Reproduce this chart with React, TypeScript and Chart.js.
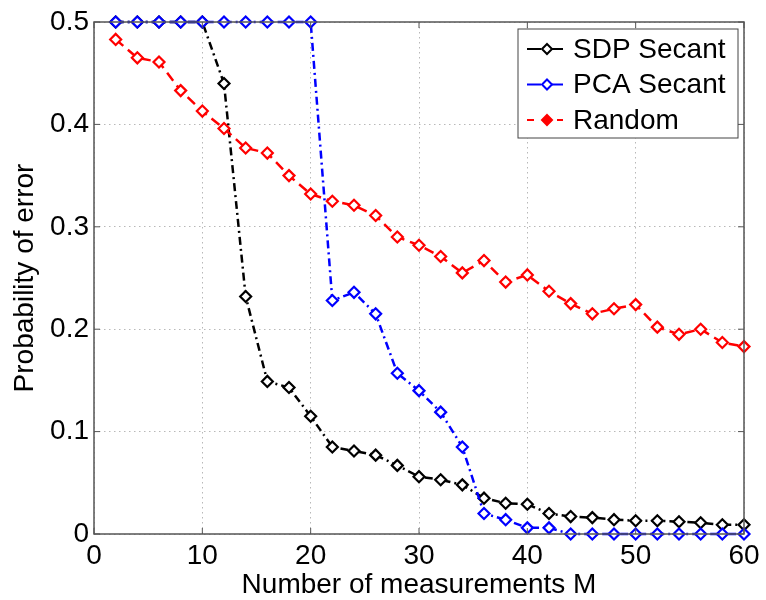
import React, { useEffect, useRef } from "react";
import { Chart, registerables } from "chart.js";

Chart.register(...registerables);

const mValues = [2, 4, 6, 8, 10, 12, 14, 16, 18, 20, 22, 24, 26, 28, 30, 32, 34, 36, 38, 40, 42, 44, 46, 48, 50, 52, 54, 56, 58, 60];
const sdpSecant = [0.5, 0.5, 0.5, 0.5, 0.5, 0.44, 0.232, 0.149, 0.143, 0.115, 0.085, 0.081, 0.077, 0.067, 0.056, 0.053, 0.048, 0.035, 0.03, 0.029, 0.02, 0.017, 0.016, 0.014, 0.013, 0.013, 0.012, 0.011, 0.009, 0.009];
const pcaSecant = [0.5, 0.5, 0.5, 0.5, 0.5, 0.5, 0.5, 0.5, 0.5, 0.5, 0.228, 0.236, 0.215, 0.157, 0.14, 0.119, 0.085, 0.02, 0.014, 0.006, 0.006, 0, 0, 0, 0, 0, 0, 0, 0, 0];
const randomProj = [0.483, 0.465, 0.461, 0.433, 0.413, 0.396, 0.377, 0.372, 0.35, 0.332, 0.325, 0.321, 0.311, 0.29, 0.282, 0.271, 0.255, 0.267, 0.246, 0.253, 0.237, 0.225, 0.215, 0.22, 0.224, 0.202, 0.195, 0.2, 0.187, 0.183];
const seriesNames = ["SDP Secant", "PCA Secant", "Random"];
const xTicks = [0, 10, 20, 30, 40, 50, 60];
const yTicks = [0, 0.1, 0.2, 0.3, 0.4, 0.5];
const xTitle = "Number of measurements M";
const yTitle = "Probability of error";

const FONT = "'Liberation Sans', Arial, Helvetica, sans-serif";
const DASH_DOT = [8, 4, 2, 4];
const DASHED = [10, 6];

const seriesStyles = [
  { color: "#000000", dash: DASH_DOT },
  { color: "#0000ff", dash: DASH_DOT },
  { color: "#ff0000", dash: DASHED },
];

const framePlugin = {
  id: "frame",
  afterDraw(chart: any) {
    const { ctx, chartArea } = chart;
    const { left, right, top, bottom } = chartArea;
    const xs = chart.scales.x;
    const ys = chart.scales.y;
    ctx.save();
    ctx.strokeStyle = "#555555";
    ctx.lineWidth = 1.5;
    ctx.setLineDash([]);
    ctx.strokeRect(left, top, right - left, bottom - top);
    const tl = 6;
    ctx.lineWidth = 1;
    ctx.beginPath();
    xTicks.forEach((v) => {
      const px = xs.getPixelForValue(v);
      ctx.moveTo(px, bottom);
      ctx.lineTo(px, bottom - tl);
      ctx.moveTo(px, top);
      ctx.lineTo(px, top + tl);
    });
    yTicks.forEach((v) => {
      const py = ys.getPixelForValue(v);
      ctx.moveTo(left, py);
      ctx.lineTo(left + tl, py);
      ctx.moveTo(right, py);
      ctx.lineTo(right - tl, py);
    });
    ctx.stroke();

    // legend
    const bx = right - 226;
    const by = top + 7;
    const bw = 220;
    const bh = 109;
    ctx.fillStyle = "#ffffff";
    ctx.fillRect(bx, by, bw, bh);
    ctx.strokeStyle = "#444444";
    ctx.lineWidth = 1;
    ctx.strokeRect(bx, by, bw, bh);
    seriesNames.forEach((name, i) => {
      const cy = by + 20 + i * 35.5;
      const st = seriesStyles[i];
      ctx.strokeStyle = st.color;
      ctx.lineWidth = 2;
      ctx.setLineDash(i === 2 ? [7, 8] : [14, 3, 2, 3]);
      ctx.beginPath();
      ctx.moveTo(bx + 9, cy);
      ctx.lineTo(bx + 45, cy);
      ctx.stroke();
      ctx.setLineDash([]);
      const mx = bx + 29;
      const r = 5;
      ctx.beginPath();
      ctx.moveTo(mx, cy - r);
      ctx.lineTo(mx + r, cy);
      ctx.lineTo(mx, cy + r);
      ctx.lineTo(mx - r, cy);
      ctx.closePath();
      ctx.fillStyle = i === 2 ? st.color : "#ffffff";
      ctx.fill();
      ctx.stroke();
      ctx.fillStyle = "#000000";
      ctx.font = `28px ${FONT}`;
      ctx.textAlign = "left";
      ctx.textBaseline = "middle";
      ctx.fillText(name, bx + 55, cy + 1);
    });
    ctx.restore();
  },
};

export default function App() {
  const canvasRef = useRef<HTMLCanvasElement | null>(null);

  useEffect(() => {
    const canvas = canvasRef.current;
    if (!canvas) return;
    const allSeries = [sdpSecant, pcaSecant, randomProj];
    const chart = new Chart(canvas, {
      type: "line",
      data: {
        datasets: allSeries.map((vals, i) => ({
          label: seriesNames[i],
          data: mValues.map((m, j) => ({ x: m, y: vals[j] })),
          borderColor: seriesStyles[i].color,
          borderDash: seriesStyles[i].dash,
          borderWidth: 2.5,
          pointStyle: "rectRot",
          pointRadius: 5.5,
          pointBorderWidth: 2.2,
          pointBorderColor: seriesStyles[i].color,
          pointBackgroundColor: "#ffffff",
          fill: false,
          tension: 0,
          clip: false as any,
          order: 3 - i,
        })),
      },
      options: {
        responsive: false,
        animation: false,
        layout: { padding: { left: 0, right: 22, top: 22, bottom: 0 } },
        plugins: {
          legend: { display: false },
          tooltip: { enabled: false },
        },
        scales: {
          x: {
            type: "linear",
            min: 0,
            max: 60,
            afterFit(scale: any) {
              scale.height = 66;
            },
            afterBuildTicks(scale: any) {
              scale.ticks = xTicks.map((v) => ({ value: v }));
            },
            ticks: {
              font: { family: FONT, size: 28 },
              color: "#000000",
              padding: 5,
              maxRotation: 0,
              autoSkip: false,
            },
            grid: { color: "#b8b8b8", drawTicks: false, lineWidth: 1 },
            border: { display: false, dash: [1.5, 3.5] },
            title: {
              display: true,
              text: xTitle,
              color: "#000000",
              font: { family: FONT, size: 28, lineHeight: 1 },
              padding: { top: 0, bottom: 1 },
            },
          },
          y: {
            type: "linear",
            min: 0,
            max: 0.5,
            afterFit(scale: any) {
              scale.width = 94;
            },
            afterBuildTicks(scale: any) {
              scale.ticks = yTicks.map((v) => ({ value: v }));
            },
            ticks: {
              font: { family: FONT, size: 28 },
              color: "#000000",
              padding: 5,
              callback: (v: any) => String(Math.round(Number(v) * 10) / 10),
            },
            grid: { color: "#b8b8b8", drawTicks: false, lineWidth: 1 },
            border: { display: false, dash: [1.5, 3.5] },
            title: {
              display: true,
              text: yTitle,
              color: "#000000",
              font: { family: FONT, size: 28, lineHeight: 1.2 },
              padding: { top: 8, bottom: 0 },
            },
          },
        },
      },
      plugins: [framePlugin],
    });
    return () => chart.destroy();
  }, []);

  return (
    <div style={{ position: "absolute", left: 0, top: 0, width: 766, height: 600, background: "#ffffff" }}>
      <canvas ref={canvasRef} width={766} height={600} style={{ display: "block" }} />
    </div>
  );
}
